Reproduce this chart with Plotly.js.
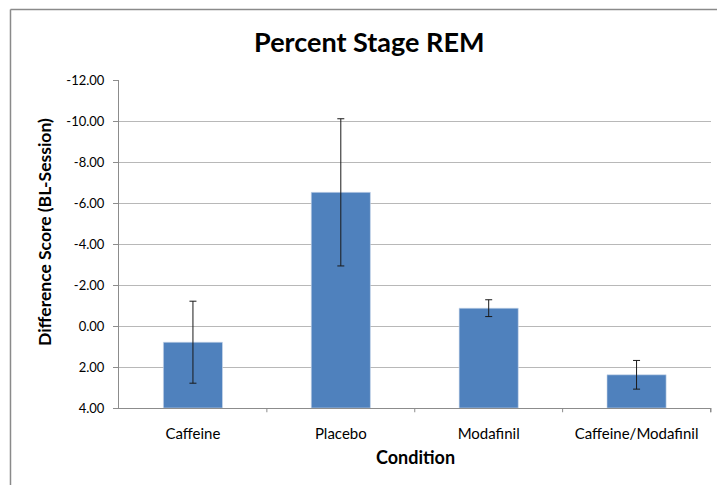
<!DOCTYPE html>
<html>
<head>
<meta charset="utf-8">
<script src="https://cdn.plot.ly/plotly-3.0.1.min.js"></script>
<style>
html,body{margin:0;padding:0;background:#fff;}
#chart{width:717px;height:485px;}
</style>
</head>
<body>
<div id="chart"></div>
<script>
const categories = ["Caffeine", "Placebo", "Modafinil", "Caffeine/Modafinil"];
const values = [0.79, -6.52, -0.87, 2.38];
const errors = [2.0, 3.59, 0.41, 0.70];
const yTickVals = [-12, -10, -8, -6, -4, -2, 0, 2, 4];
const yTickText = ["-12.00", "-10.00", "-8.00", "-6.00", "-4.00", "-2.00", "0.00", "2.00", "4.00"];

const font = "Lato, 'Open Sans', sans-serif";

// bars drawn from the axis crossing (4.00) to each value, as in the reversed Excel axis
const base = 4;
const trace = {
  type: "bar",
  x: categories,
  y: values.map(v => v - base),
  base: values.map(() => base),
  marker: {color: "#4F81BD", line: {color: "#D0DCEC", width: 0.6}},
  width: 0.4,
  error_y: {type: "data", array: errors, visible: true, color: "#1a1a1a", thickness: 1, width: 3.5},
  hoverinfo: "x+y"
};

const layout = {
  width: 717, height: 485,
  margin: {l: 119, r: 6, t: 80, b: 77},
  paper_bgcolor: "#fff", plot_bgcolor: "#fff",
  showlegend: false,
  bargap: 0.6,
  title: {text: "<b>Percent Stage REM</b>", font: {family: font, size: 27, color: "#000"}, x: 0.515, xanchor: "center", y: 0.912, yanchor: "middle"},
  xaxis: {
    type: "category",
    showline: true, linecolor: "#8c8c8c", linewidth: 1,
    showgrid: false,
    ticks: "", tickfont: {family: font, size: 15, color: "#000"},
    ticklabelstandoff: 12,
    fixedrange: true
  },
  yaxis: {
    range: [4, -12], autorange: false,
    tickvals: yTickVals, ticktext: yTickText,
    showline: true, linecolor: "#8c8c8c", linewidth: 1,
    showgrid: true, gridcolor: "#b8b8b8", gridwidth: 1,
    zeroline: false,
    ticks: "outside", ticklen: 5, tickcolor: "#8c8c8c",
    tickfont: {family: font, size: 13, color: "#000"},
    ticklabelstandoff: 6,
    fixedrange: true
  },
  annotations: [
    {text: "<b>Condition</b>", xref: "paper", yref: "paper", x: 0.5008, y: -0.1494, xanchor: "center", yanchor: "middle", showarrow: false, font: {family: font, size: 18, color: "#000"}},
    {text: "<b>Difference Score (BL-Session)</b>", xref: "paper", yref: "paper", x: -0.125, y: 0.5366, xanchor: "center", yanchor: "middle", textangle: -90, showarrow: false, font: {family: font, size: 17.5, color: "#000"}}
  ],
  shapes: [
    // category separator ticks
    ...[0.5, 1.5, 2.5, 3.5].map(v => ({type: "line", xref: "x", yref: "paper", x0: v, x1: v, y0: 0, y1: -0.013, line: {color: "#8c8c8c", width: 1}})),
    {type: "line", xref: "paper", yref: "paper", x0: 1, x1: 1, y0: 0, y1: -0.013, line: {color: "#8c8c8c", width: 1}},
    // chart area border (left and top visible)
    {type: "line", xref: "paper", yref: "paper", x0: -0.1833, x1: -0.1833, y0: -0.25, y1: 1.2151, line: {color: "#8a8a8a", width: 1.5}},
    {type: "line", xref: "paper", yref: "paper", x0: -0.1833, x1: 1.02, y0: 1.2151, y1: 1.2151, line: {color: "#8a8a8a", width: 1.5}}
  ]
};

Plotly.newPlot("chart", [trace], layout, {displayModeBar: false, staticPlot: true});
</script>
</body>
</html>
